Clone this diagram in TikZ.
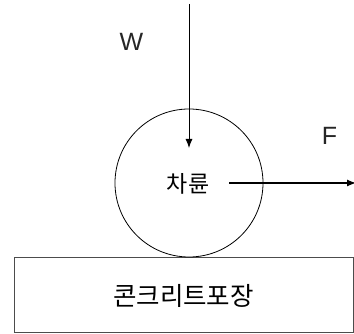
\documentclass[tikz,border=0pt]{standalone}
\usepackage{fontspec}
\setmainfont{Liberation Sans}
\newfontfamily\kr{Noto Sans CJK KR}
\usetikzlibrary{arrows.meta,positioning}

\begin{document}
\begin{tikzpicture}[x=1pt,y=1pt,
        force/.style={draw=black, line width=0.9pt, -{Latex[length=9pt,width=7pt]}},
        lbl/.style={font=\fontsize{25}{28}\selectfont, text=black!85}]
    \useasboundingbox (0,0) rectangle (354,334);
    % pavement
    \node[draw=black!70, line width=1pt, minimum width=339pt, minimum height=75pt,
          inner sep=0pt, font=\kr\fontsize{25.5}{28}\selectfont] (pavement) at (183.5,38.5) {콘크리트포장};
    % wheel
    \node[draw, circle, line width=0.8pt, minimum size=148pt, inner sep=0pt] (wheel) at (189,151) {};
    \node[font=\kr\fontsize{23}{26}\selectfont] (wheeltext) at (188,150) {차륜};
    % forces
    \coordinate (wtop) at (189,330);
    \coordinate (wend) at (189,186);
    \coordinate (fstart) at (229,151);
    \coordinate (fend) at (356,151);
    \draw[force] (wtop) -- (wend);
    \draw[force, line width=1.2pt] (fstart) -- (fend);
    \node[lbl] (wlabel) at (131.5,292) {W};
    \node[lbl] (flabel) at (329.5,198.5) {F};
\end{tikzpicture}
\end{document}
